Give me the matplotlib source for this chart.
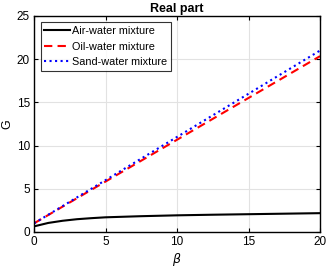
import numpy as np
import matplotlib
matplotlib.use("Agg")
import matplotlib.pyplot as plt

plt.rcParams['font.family'] = ['Liberation Sans', 'DejaVu Sans']

# data
beta = [0, 1, 2, 3, 4, 5, 7.5, 10, 12.5, 15, 17.5, 20]
air_water = [0.65, 1.05, 1.3, 1.48, 1.6, 1.7, 1.83, 1.93, 2.0, 2.06, 2.12, 2.18]
oil_beta = [0, 20]
oil_water = [1.0, 20.35]
sand_beta = [0, 20]
sand_water = [1.0, 21.0]

fig = plt.figure(figsize=(3.27, 2.71), dpi=100)
ax = fig.add_axes([34/327, 1-232/271, 286/327, 216/271])

ax.plot(beta, air_water, color='k', lw=1.5, label='Air-water mixture')
ax.plot(oil_beta, oil_water, color='r', ls=(0, (4, 2.5)), lw=1.5, label='Oil-water mixture')
ax.plot(sand_beta, sand_water, color='b', ls=':', lw=1.5, label='Sand-water mixture')

ax.set_xlim(0, 20)
ax.set_ylim(0, 25)
ax.set_xticks([0, 5, 10, 15, 20])
ax.set_yticks([0, 5, 10, 15, 20, 25])
ax.grid(True, color='#e2e2e2', lw=0.8)
ax.set_axisbelow(True)
ax.tick_params(direction='in', top=True, right=True, labelsize=8.5, length=3, width=0.8, pad=3)
for s in ax.spines.values():
    s.set_linewidth(1.0)

ax.set_xlabel(r'$\beta$', fontsize=9, labelpad=2)
ax.set_ylabel('G', fontsize=9, labelpad=2)
ax.set_title('Real part', fontsize=9, fontweight='bold', pad=3)

leg = ax.legend(loc='upper left', fontsize=7.8, frameon=True, fancybox=False,
                edgecolor='k', borderpad=0.35, handlelength=2.4, handletextpad=0.15,
                labelspacing=0.5, borderaxespad=0.6)
leg.get_frame().set_linewidth(0.8)

fig.savefig('out.png', dpi=100)
